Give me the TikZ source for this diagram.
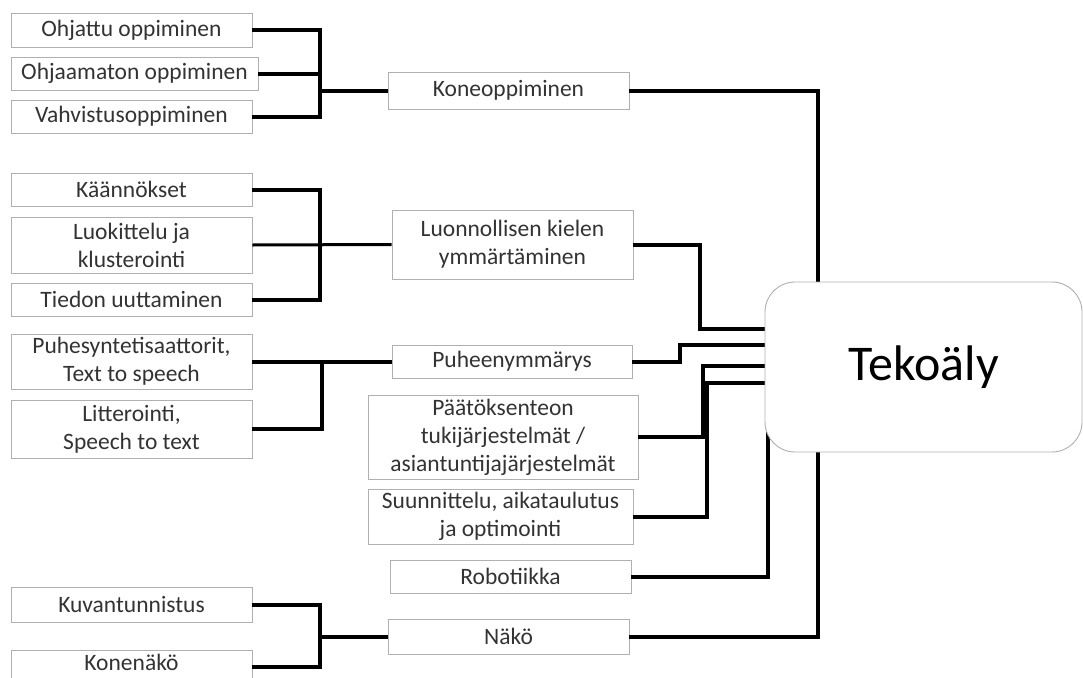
\documentclass[tikz,border=0pt]{standalone}
\usepackage{fontspec}
\setmainfont{Carlito}
\definecolor{txt}{HTML}{333333}
\definecolor{edge}{HTML}{B0B0B0}
\tikzset{
  label text/.style={inner sep=0pt, align=center, text=txt, font=\fontsize{23.5}{28}\selectfont},
  box/.style={label text, draw=edge, line width=0.9pt, fill=white},
  frame/.style={draw=edge, line width=0.9pt, fill=white},
  conn/.style={line width=4pt, black},
  thinconn/.style={line width=3pt, black},
  main/.style={draw=edge, line width=0.9pt, fill=white, rounded corners=30pt, inner sep=0pt,
    text=black, font=\fontsize{50}{60}\selectfont}
}
\begin{document}
\begin{tikzpicture}[x=1pt,y=-1pt]
\clip (0,0) rectangle (1083,677);
\fill[white] (0,0) rectangle (1083,677);
% coordinates of joins
\coordinate (ja) at (320,90.5);
\coordinate (jb) at (320,245);
\coordinate (jc) at (322,361.5);
\coordinate (je) at (320,636.5);
\coordinate (kt) at (818,300);
\coordinate (lx) at (700,329);
\coordinate (px) at (680,345);
\coordinate (dx) at (703,366);
\coordinate (sx) at (707,383);
\coordinate (rt) at (768,430);
\coordinate (nt) at (818,440);
% nodes
\node[box, minimum width=241pt, minimum height=34pt] (a1) at (131.5,30) {Ohjattu oppiminen};
\node[box, minimum width=247pt, minimum height=33pt] (a2) at (134.5,73.5) {Ohjaamaton oppiminen};
\node[box, minimum width=241pt, minimum height=33pt] (a3) at (131.5,116.5) {Vahvistusoppiminen};
\node[box, minimum width=241pt, minimum height=37pt] (K) at (508.5,90.5) {Koneoppiminen};
\node[box, minimum width=241pt, minimum height=33pt] (b1) at (131.5,189.5) {Käännökset};
\node[box, minimum width=241pt, minimum height=56pt] (b2) at (131.5,245) {Luokittelu ja\\klusterointi};
\node[box, minimum width=241pt, minimum height=33pt] (b3) at (131.5,299.5) {Tiedon uuttaminen};
\node[box, minimum width=241pt, minimum height=69pt] (L) at (512.5,244.5) {Luonnollisen kielen\\ymmärtäminen};
\node[box, minimum width=241pt, minimum height=55pt] (c1) at (131.5,361.5) {Puhesyntetisaattorit,\\Text to speech};
\node[box, minimum width=241pt, minimum height=58pt] (c2) at (131.5,429) {Litterointi,\\Speech to text};
\node[box, minimum width=240pt, minimum height=33pt] (P) at (512,361.5) {Puheenymmärys};
\node[box, minimum width=270pt, minimum height=84pt] (D) at (503,437) {Päätöksenteon\\tukijärjestelmät /\\asiantuntijajärjestelmät};
\node[box, minimum width=265pt, minimum height=55pt] (S) at (500.5,516.5) {Suunnittelu, aikataulutus\\ja optimointi};
\node[box, minimum width=241pt, minimum height=33pt] (R) at (510.5,576.5) {Robotiikka};
\node[box, minimum width=241pt, minimum height=35pt] (N) at (508.5,636.5) {Näkö};
\node[box, minimum width=241pt, minimum height=35pt] (e1) at (131.5,604.5) {Kuvantunnistus};
% bottom box runs past the lower edge
\draw[frame] (11,650) rectangle (252,692);
\node[label text, minimum width=241pt, text depth=0pt] (e2) at (131.5,662) {Konenäkö};
% connectors
\draw[conn] (a1.east) -| (ja);
\draw[conn] (a3.east) -| (ja);
\draw[conn] (a2.east) -- (a2.east -| ja);
\draw[conn] (ja) -- (K.west);
\draw[conn] (b1.east) -| (jb);
\draw[conn] (b3.east) -| (jb);
\draw[thinconn] (b2.east) -- (L.west);
\draw[conn] (c1.east) -- (P.west);
\draw[conn] (c2.east) -| (jc);
\draw[conn] (e1.east) -| (je);
\draw[conn] ([yshift=-5pt]e2.east) -| (je);
\draw[conn] (je) -- (N.west);
\draw[conn] (K.east) -| (kt);
\draw[conn] (L.east) -| (lx) -- (lx -| 780,0);
\draw[conn] (P.east) -| (px) -- (px -| 780,0);
\draw[conn] (D.east) -| (dx) -- (dx -| 780,0);
\draw[conn] (S.east) -| (sx) -- (sx -| 780,0);
\draw[conn] (R.east) -| (rt);
\draw[conn] (N.east) -| (nt);
% main box
\node[main, minimum width=317pt, minimum height=170pt] (T) at (923.5,367) {Tekoäly};
\end{tikzpicture}
\end{document}
